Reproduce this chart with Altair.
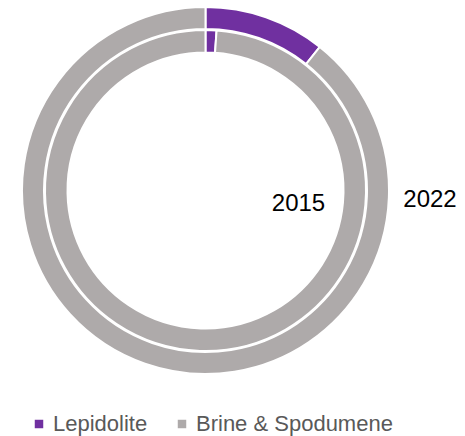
import altair as alt
import pandas as pd

years = ["2015", "2022"]
categories = ["Lepidolite", "Brine & Spodumene"]
share_2015 = [1.1, 98.9]
share_2022 = [10.7, 89.3]
colors = ["#7030A0", "#AEAAAA"]

rows = []
for yr, vals in zip(years, [share_2015, share_2022]):
    for i, (c, v) in enumerate(zip(categories, vals)):
        rows.append({"year": yr, "category": c, "share": v, "ord": i})
df = pd.DataFrame(rows)

cx, cy = 197.5, 182.5

color = alt.Color(
    "category:N",
    scale=alt.Scale(domain=categories, range=colors),
    legend=alt.Legend(
        title=None,
        orient="none",
        legendX=20,
        legendY=405,
        direction="horizontal",
        symbolType="square",
        symbolSize=72,
        symbolStrokeWidth=0,
        labelFont="Liberation Sans",
        labelFontSize=22,
        labelColor="#595959",
        labelOffset=3,
        labelLimit=300,
        columnPadding=23,
        padding=0,
    ),
)

base = alt.Chart(df)

inner = base.transform_filter(alt.datum.year == "2015").mark_arc(
    radius=160.5, radius2=138, stroke="white", strokeWidth=2
).encode(
    theta=alt.Theta("share:Q", stack=True),
    color=color,
    order=alt.Order("ord:Q"),
    x=alt.value(cx),
    y=alt.value(cy),
)

outer = base.transform_filter(alt.datum.year == "2022").mark_arc(
    radius=183.5, radius2=161.5, stroke="white", strokeWidth=2
).encode(
    theta=alt.Theta("share:Q", stack=True),
    color=color,
    order=alt.Order("ord:Q"),
    x=alt.value(cx),
    y=alt.value(cy),
)

lab_df = pd.DataFrame({"year": years})

lab2015 = alt.Chart(lab_df).transform_filter(alt.datum.year == "2015").mark_text(
    font="Liberation Sans", fontSize=24, color="black", align="center", baseline="alphabetic"
).encode(text="year:N", x=alt.value(290.5), y=alt.value(203))

lab2022 = alt.Chart(lab_df).transform_filter(alt.datum.year == "2022").mark_text(
    font="Liberation Sans", fontSize=24, color="black", align="center", baseline="alphabetic"
).encode(text="year:N", x=alt.value(422), y=alt.value(199))

chart = alt.layer(outer, inner, lab2015, lab2022).resolve_scale(theta="independent").properties(
    width=449, height=428, padding=0, autosize=alt.AutoSizeParams(type="none")
).configure_view(stroke=None)

chart.save("out.html", embed_options={"renderer": "svg", "actions": False})
